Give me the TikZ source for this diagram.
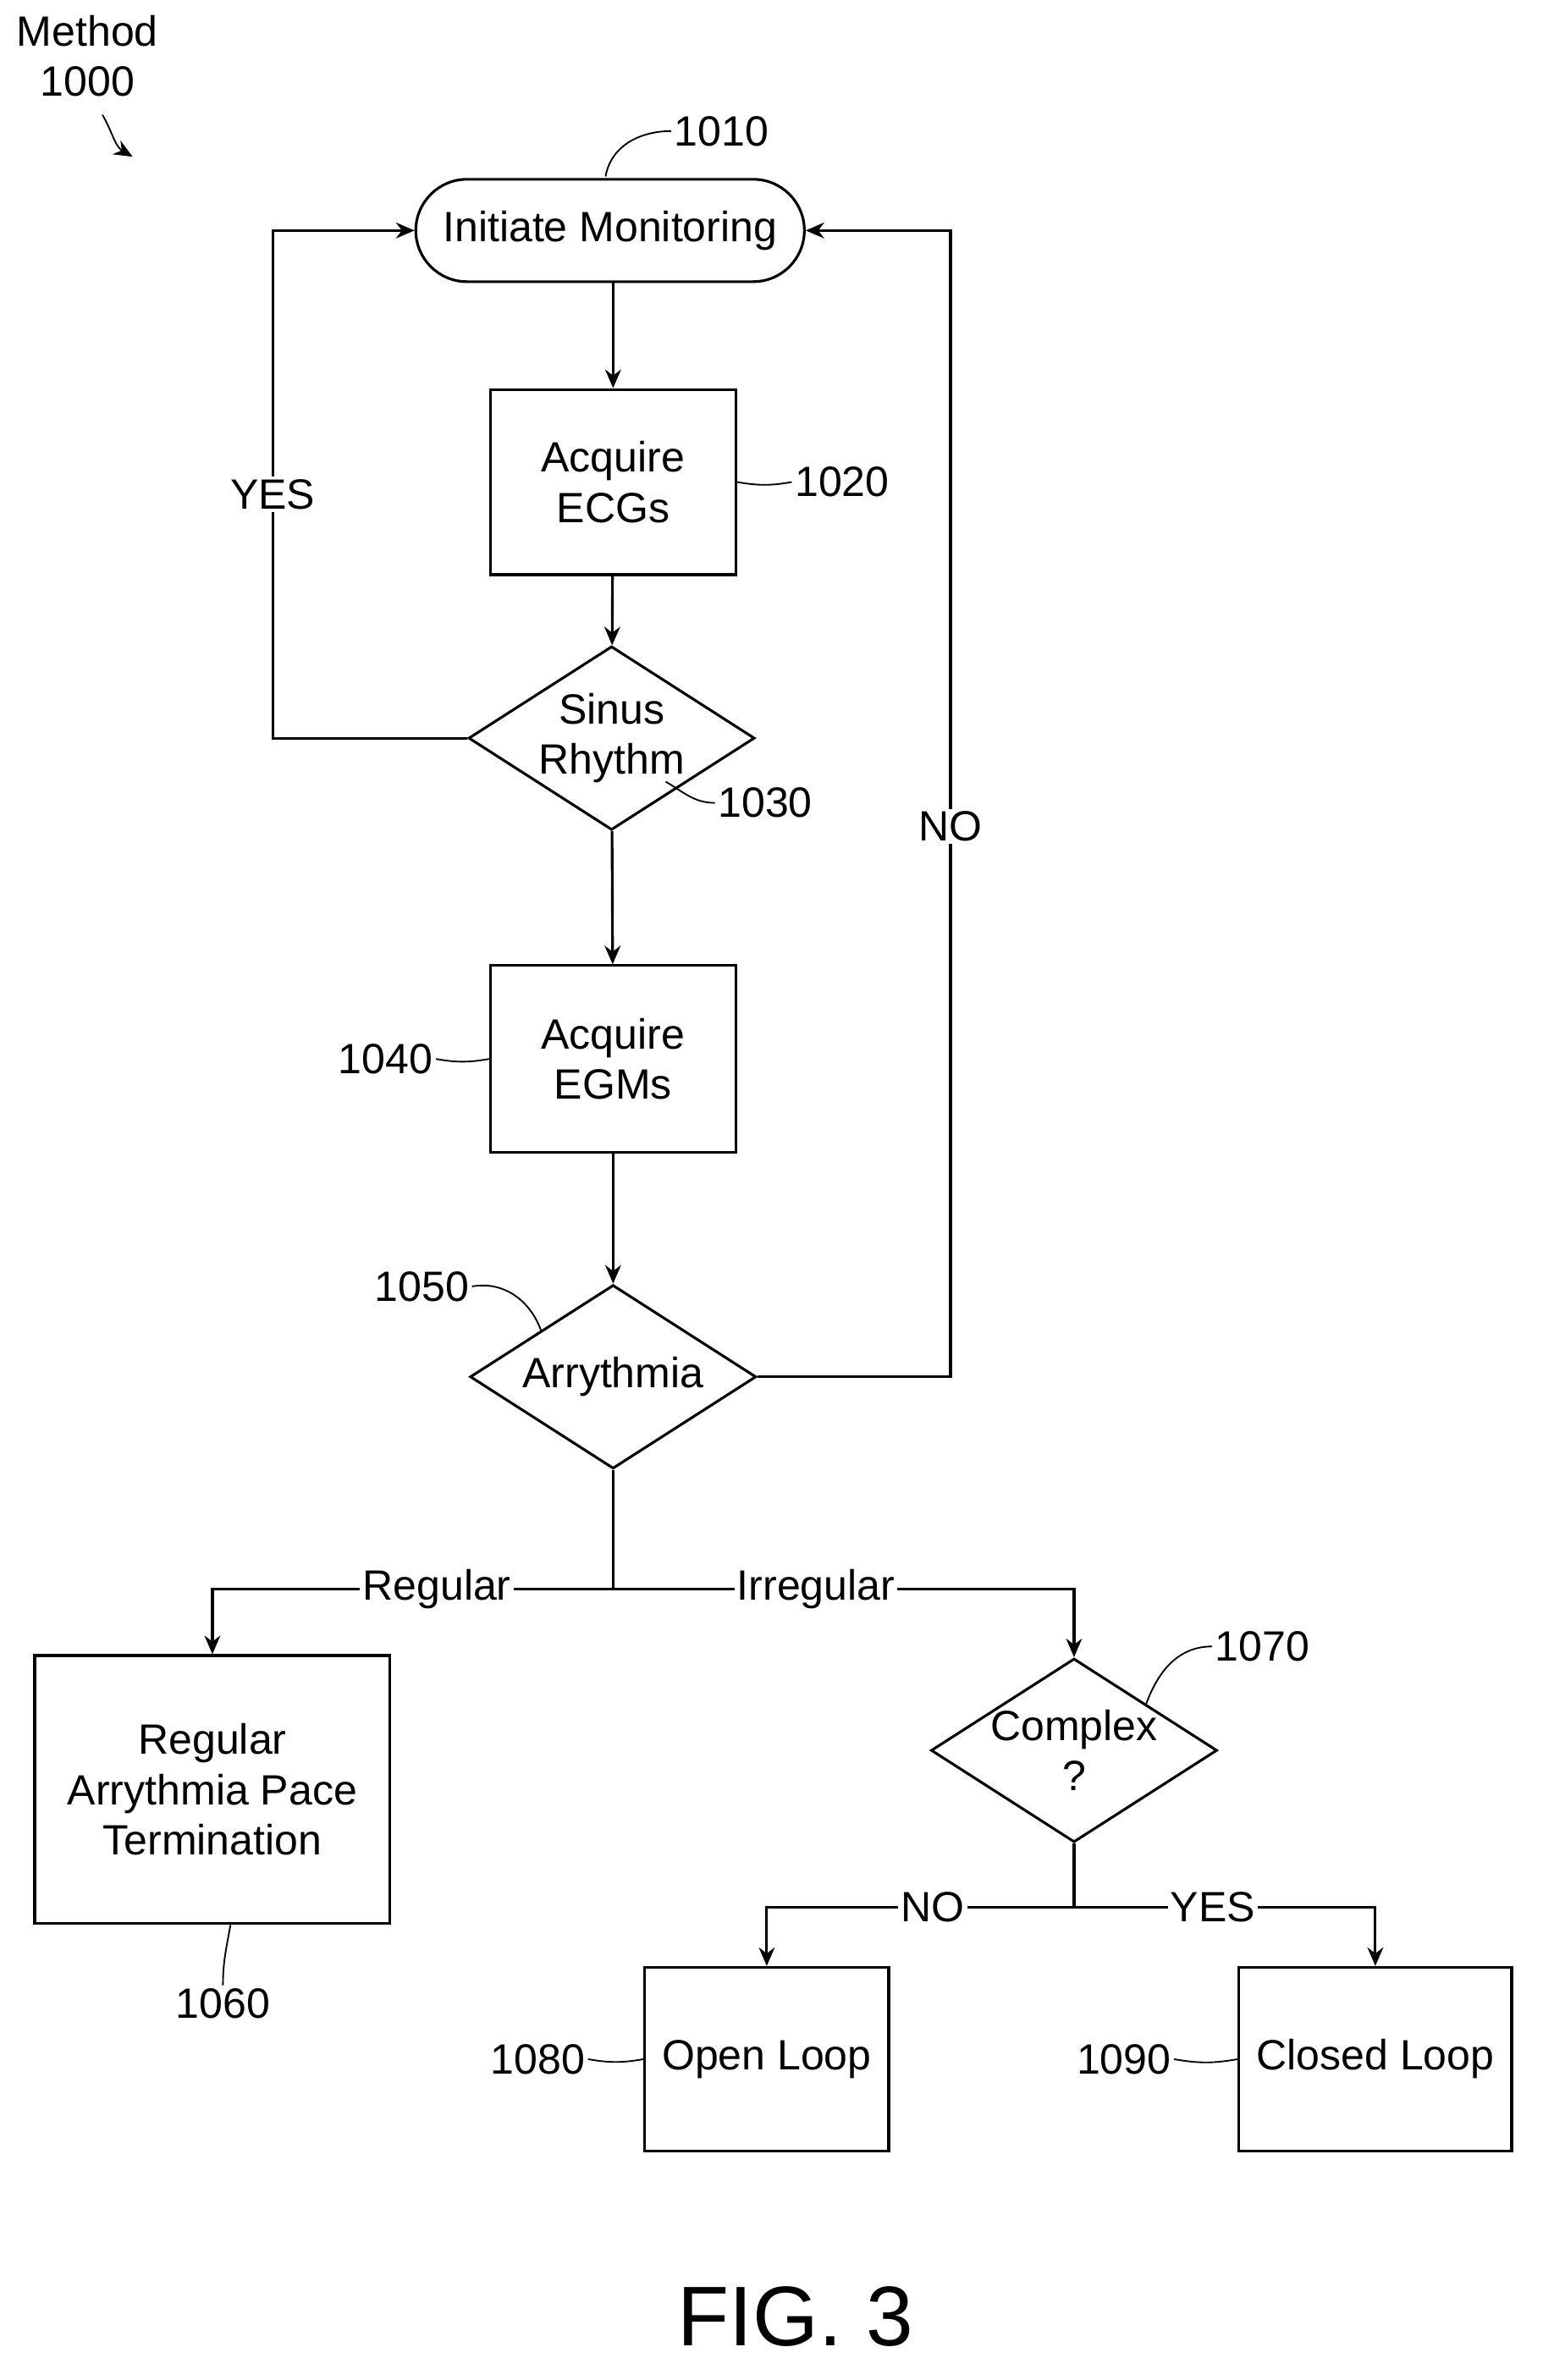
\documentclass[tikz,border=0pt]{standalone}
\usepackage{fontspec}
\setmainfont{Liberation Sans}
\usetikzlibrary{shapes.geometric, arrows.meta, positioning}
\begin{document}
\begin{tikzpicture}[%
    x=0.02cm, y=-0.02cm,
    >={Stealth[length=7pt,width=6pt]},
    every node/.style={%
      font=\fontsize{16}{19}\selectfont,
      text centered,
      align=center
    },
    box/.style={draw=black,line width=1pt,inner sep=2pt},
    decision/.style={draw=black,line width=1pt,diamond,inner sep=0pt,
      minimum width=3.8cm,minimum height=2.44cm},
    flow/.style={line width=1pt,->},
    tag/.style={fill=white, inner sep=1pt},
    lead/.style={line width=0.6pt},
    ref/.style={inner sep=1pt}
  ]
  \useasboundingbox (0,0) rectangle (1024,1580);

  % Flow nodes
  \node[box, rounded corners=0.68cm, minimum width=5.16cm, minimum height=1.36cm]
    (start) at (405,153) {Initiate Monitoring};
  \node[box, minimum width=3.26cm, minimum height=2.46cm] (ecg) at (407,320) {Acquire\\ECGs};
  \node[decision, label=center:{Sinus\\Rhythm}] (sinus) at (406,490) {};
  \node[box, minimum width=3.26cm, minimum height=2.48cm] (egm) at (407,703) {Acquire\\EGMs};
  \node[decision, label=center:{Arrythmia}] (arr) at (407,914) {};
  \node[box, minimum width=4.72cm, minimum height=3.56cm] (regular) at (141,1188)
    {Regular\\Arrythmia Pace\\Termination};
  \node[decision, label=center:{Complex\\?}] (complex) at (713,1162) {};
  \node[box, minimum width=3.24cm, minimum height=2.44cm] (open) at (509,1367) {Open Loop};
  \node[box, minimum width=3.62cm, minimum height=2.44cm] (closed) at (913,1367) {Closed Loop};

  % Branch points
  \coordinate (s1) at (407,1055);
  \coordinate (s2) at (713,1266);

  % Connectors
  \draw[flow] (start.south -| ecg.north) -- (ecg);
  \draw[flow] (ecg) -- (sinus);
  \draw[flow] (sinus) -- (egm);
  \draw[flow] (egm) -- (arr);
  \draw[line width=1pt] (arr.south) -- (s1);
  \draw[flow] (s1) -| node[pos=0.22, tag] {Regular} (regular.north);
  \draw[flow] (s1) -| node[pos=0.22, tag] {Irregular} (complex.north);
  \draw[line width=1pt] (complex.south) -- (s2);
  \draw[flow] (s2) -| node[pos=0.23, tag] {NO} (open.north);
  \draw[flow] (s2) -| node[pos=0.23, tag] {YES} (closed.north);
  \draw[flow] (sinus.west) -- (181,490) |- node[pos=0.24, tag] {YES} (start.west);
  \draw[flow] (arr.east) -- (631,914) |- node[pos=0.24, tag] {NO} (start.east);

  % Reference numerals
  \node[ref] (n1010) at (479,87) {1010};
  \draw[lead] (start.north) ++(-3,-1) to[out=80,in=180] (n1010.west);
  \node[ref] (n1020) at (559,320) {1020};
  \draw[lead] (ecg.east) to[out=-10,in=190] (n1020.west);
  \node[ref] (n1030) at (508,533) {1030};
  \draw[lead] (sinus.south east) ++(-12,-2) to[out=-30,in=180] (n1030.west);
  \node[ref] (n1040) at (256,703) {1040};
  \draw[lead] (n1040.east) to[out=-10,in=190] (egm.west);
  \node[ref] (n1050) at (280,854) {1050};
  \draw[lead] (n1050.east) to[out=10,in=110] (arr.north west);
  \node[ref] (n1060) at (148,1330) {1060};
  \draw[lead] (regular.south) ++(12,0) to[out=-100,in=90] (n1060.north);
  \node[ref] (n1070) at (838,1093) {1070};
  \draw[lead] (n1070.west) to[out=180,in=70] (complex.north east);
  \node[ref] (n1080) at (357,1367) {1080};
  \draw[lead] (n1080.east) to[out=-10,in=190] (open.west);
  \node[ref] (n1090) at (746,1367) {1090};
  \draw[lead] (n1090.east) to[out=-10,in=190] (closed.west);

  \node (method) at (58,37) {Method\\1000};
  \draw[lead,->] (method.south) ++(10,6) to[out=-60,in=150] (88,104);
  \node[font=\fontsize{32}{36}\selectfont] (fig) at (528,1538) {FIG. 3};
\end{tikzpicture}
\end{document}
